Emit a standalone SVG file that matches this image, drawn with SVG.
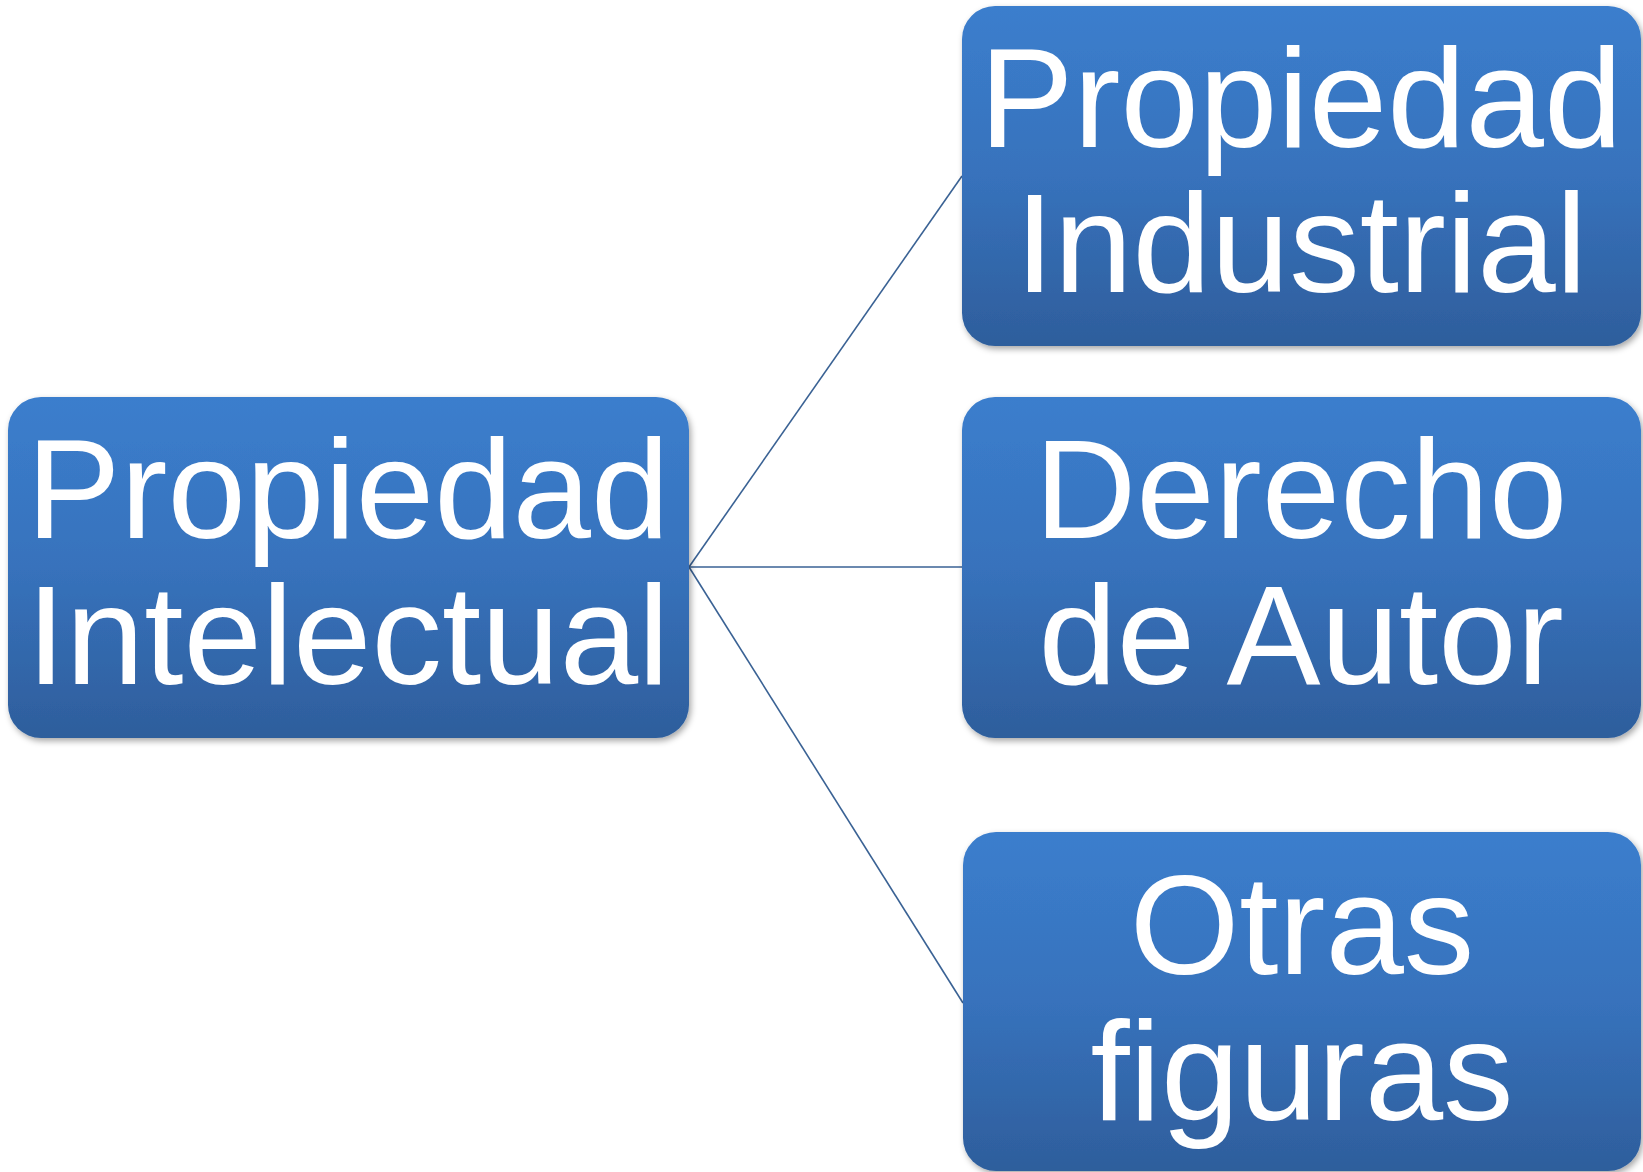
<svg xmlns="http://www.w3.org/2000/svg" width="1643" height="1172" viewBox="0 0 1643 1172">
<defs>
<linearGradient id="g" x1="0" y1="0" x2="0" y2="1">
<stop offset="0" stop-color="#3B7ECD"/>
<stop offset="0.5" stop-color="#3772BC"/>
<stop offset="1" stop-color="#2E5E9C"/>
</linearGradient>
<filter id="sh" x="-5%" y="-5%" width="110%" height="115%">
<feDropShadow dx="2" dy="3" stdDeviation="3" flood-color="#000" flood-opacity="0.35"/>
</filter>
<style>
.box{fill:url(#g);filter:url(#sh);}
.t{font-family:"Liberation Sans",Arial,sans-serif;font-size:141px;fill:#fff;text-anchor:middle;}
.c{stroke:#3A6294;stroke-width:1.6;fill:none;}
</style>
</defs>
<rect width="1643" height="1172" fill="#fff"/>
<g id="connectors">
<line class="c" x1="689" y1="567" x2="962" y2="176"/>
<line class="c" x1="689" y1="567" x2="962" y2="567"/>
<line class="c" x1="689" y1="567" x2="963" y2="1003"/>
</g>
<g id="n-root">
<rect class="box" x="8" y="397" width="681" height="341" rx="33"/>
<text class="t" x="348" y="538">Propiedad</text>
<text class="t" x="348" y="684">Intelectual</text>
</g>
<g id="n-industrial">
<rect class="box" x="962" y="6" width="679" height="340" rx="33"/>
<text class="t" x="1301" y="147">Propiedad</text>
<text class="t" x="1301" y="292">Industrial</text>
</g>
<g id="n-autor">
<rect class="box" x="962" y="397" width="679" height="341" rx="33"/>
<text class="t" x="1301" y="538">Derecho</text>
<text class="t" x="1301" y="684">de Autor</text>
</g>
<g id="n-otras">
<rect class="box" x="963" y="832" width="678" height="339" rx="33"/>
<text class="t" x="1302" y="974">Otras</text>
<text class="t" x="1302" y="1120">figuras</text>
</g>
</svg>
